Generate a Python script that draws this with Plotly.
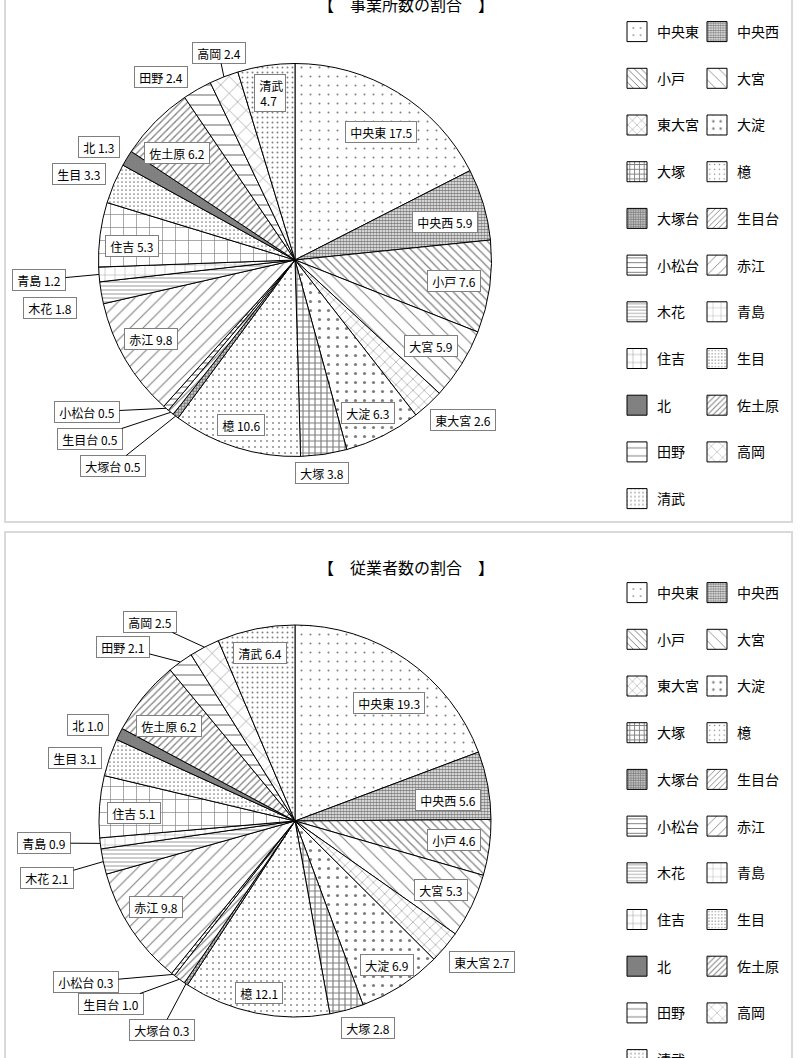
import math
import plotly.graph_objects as go

W, H = 809, 1058

# ---------------- data ----------------
categories = ["中央東", "中央西", "小戸", "大宮", "東大宮", "大淀", "大塚", "檍",
              "大塚台", "生目台", "小松台", "赤江", "木花", "青島", "住吉", "生目",
              "北", "佐土原", "田野", "高岡", "清武"]
establishments_pct = [17.5, 5.9, 7.6, 5.9, 2.6, 6.3, 3.8, 10.6, 0.5, 0.5, 0.5,
                      9.8, 1.8, 1.2, 5.3, 3.3, 1.3, 6.2, 2.4, 2.4, 4.7]
employees_pct = [19.3, 5.6, 4.6, 5.3, 2.7, 6.9, 2.8, 12.1, 0.3, 1.0, 0.3,
                 9.8, 2.1, 0.9, 5.1, 3.1, 1.0, 6.2, 2.1, 2.5, 6.4]
chart_titles = ["【　事業所数の割合　】", "【　従業者数の割合　】"]

# ---------------- styles ----------------
FONT = "Noto Sans CJK JP"
# pattern (shape, size, solidity) per category
patterns = {
    "中央東": (".", 9, 0.04),
    "中央西": (".", 3, 0.65),
    "小戸": ("\\", 6, 0.2),
    "大宮": ("\\", 10, 0.1),
    "東大宮": ("x", 8, 0.12),
    "大淀": (".", 9, 0.1),
    "大塚": ("+", 6, 0.35),
    "檍": (".", 6, 0.07),
    "大塚台": (".", 3, 0.75),
    "生目台": ("/", 5, 0.22),
    "小松台": ("-", 6, 0.2),
    "赤江": ("/", 9, 0.12),
    "木花": ("-", 4, 0.2),
    "青島": ("+", 10, 0.07),
    "住吉": ("+", 13, 0.1),
    "生目": (".", 4, 0.15),
    "北": (".", 3, 0.9),
    "佐土原": ("/", 5, 0.25),
    "田野": ("-", 10, 0.12),
    "高岡": ("x", 12, 0.09),
    "清武": (".", 5, 0.12),
}
shapes_p = [patterns[c][0] for c in categories]
sizes_p = [patterns[c][1] for c in categories]
solid_p = [patterns[c][2] for c in categories]

# layout geometry (pixels)
pies = [
    dict(values=establishments_pct, cx=295, cy=260, r=196.5, title_y=4,
         box=(5, -29, 792, 522), legend_top=16),
    dict(values=employees_pct, cx=295, cy=821, r=196, title_y=567,
         box=(5, 532, 792, 1083), legend_top=577),
]

# label box centres (pixels) and whether a leader line is drawn
label_pos = [
    {"中央東": (381, 131.5, 0), "中央西": (445, 222, 0), "小戸": (454, 281, 0),
     "大宮": (431, 346, 0), "東大宮": (463, 420, 0), "大淀": (368, 413, 0),
     "大塚": (322, 473, 0), "檍": (241, 425, 0), "大塚台": (113, 466, 1),
     "生目台": (90, 439, 1), "小松台": (87, 412, 1), "赤江": (151, 339, 0),
     "木花": (50, 308, 0), "青島": (39, 280, 1), "住吉": (132, 246, 0),
     "生目": (79, 174, 0), "北": (99, 147, 0), "佐土原": (177, 152.5, 0),
     "田野": (161, 77, 0), "高岡": (219, 53, 1), "清武": (270, 93, 0)},
    {"中央東": (389, 703, 0), "中央西": (448, 800, 0), "小戸": (454, 840, 0),
     "大宮": (441, 890, 0), "東大宮": (482, 962, 0), "大淀": (387, 965, 0),
     "大塚": (368, 1028, 0), "檍": (258.5, 993, 0), "大塚台": (161.5, 1030, 1),
     "生目台": (111, 1004, 1), "小松台": (86, 982, 1), "赤江": (156, 907, 0),
     "木花": (47, 878, 1), "青島": (44, 843, 1), "住吉": (134, 813, 0),
     "生目": (75, 758, 0), "北": (87.5, 725, 0), "佐土原": (169, 726, 0),
     "田野": (123, 647, 1), "高岡": (149.5, 622, 1), "清武": (260, 653, 0)},
]
two_line = [{"清武"}, set()]


def px(x):
    return x / W


def py(y):
    return 1 - y / H


fig = go.Figure()
shapes = []
annotations = []
legend_layouts = {}

for k, p in enumerate(pies):
    cx, cy, r = p["cx"], p["cy"], p["r"]
    fig.add_trace(go.Pie(
        labels=categories, values=p["values"], sort=False,
        direction="clockwise", rotation=0, textinfo="none",
        hoverinfo="label+value", showlegend=False,
        marker=dict(colors=["white"] * len(categories),
                    line=dict(color="black", width=1),
                    pattern=dict(shape=shapes_p, size=sizes_p, solidity=solid_p,
                                 fgcolor="black", bgcolor="white",
                                 fillmode="overlay")),
        domain=dict(x=[px(cx - r), px(cx + r)], y=[py(cy + r), py(cy - r)]),
    ))
    # outer box
    bx0, by0, bx1, by1 = p["box"]
    shapes.append(dict(type="rect", xref="paper", yref="paper",
                       x0=px(bx0), x1=px(bx1), y0=py(by1), y1=py(by0),
                       line=dict(color="#d9d9d9", width=2), fillcolor="rgba(0,0,0,0)",
                       layer="below"))
    # title
    annotations.append(dict(text=chart_titles[k], xref="paper", yref="paper",
                            x=px(406), y=py(p["title_y"]), showarrow=False,
                            xanchor="center", yanchor="middle",
                            font=dict(family=FONT, size=16, color="black")))
    # data labels
    total = sum(p["values"])
    cum = 0.0
    for name, v in zip(categories, p["values"]):
        mid = (cum + v / 2) / total * 2 * math.pi
        cum += v
        lx, ly, leader = label_pos[k][name]
        sep = "<br>" if name in two_line[k] else " "
        txt = "\u00a0" + name + sep + f"{v:.1f}" + "\u00a0"
        ann = dict(text=txt, xref="paper", yref="paper", showarrow=False,
                   font=dict(family=FONT, size=12, color="black"),
                   bgcolor="white", bordercolor="#7f7f7f", borderwidth=1,
                   borderpad=1.5)
        if leader:
            tx = cx + r * math.sin(mid)
            ty = cy - r * math.cos(mid)
            ann.update(x=px(tx), y=py(ty), showarrow=True, arrowhead=0,
                       arrowwidth=1, arrowcolor="black",
                       ax=lx - tx, ay=ly - ty)
        else:
            ann.update(x=px(lx), y=py(ly), xanchor="center", yanchor="middle")
        annotations.append(ann)

    # legends: two columns
    lnames = [("legend" if k == 0 else "legend3"), ("legend2" if k == 0 else "legend4")]
    col_x = [617, 697]
    for c in range(2):
        legend_layouts[lnames[c]] = dict(
            x=px(col_x[c]), y=py(p["legend_top"]), xanchor="left", yanchor="top",
            orientation="v", traceorder="grouped", tracegroupgap=25.5,
            bgcolor="rgba(0,0,0,0)", borderwidth=0,
            font=dict(family=FONT, size=14, color="black"))
    for i, name in enumerate(categories):
        sh, sz, so = patterns[name]
        fig.add_trace(go.Bar(
            x=[None], y=[None], name=name, legend=lnames[i % 2],
            legendgroup=f"g{k}_{i}", showlegend=True, hoverinfo="skip",
            marker=dict(color="white", line=dict(color="black", width=1),
                        pattern=dict(shape=sh, size=sz, solidity=so,
                                     fgcolor="black", bgcolor="white",
                                     fillmode="overlay")),
        ))

fig.update_layout(
    width=W, height=H, margin=dict(l=0, r=0, t=0, b=0, autoexpand=False),
    paper_bgcolor="white", plot_bgcolor="white",
    xaxis=dict(visible=False), yaxis=dict(visible=False),
    shapes=shapes, annotations=annotations,
    **legend_layouts,
)

# enlarge the legend swatches to the reference's ~20px squares
post_js = """
(function() {
  var gd = document.getElementById('{plot_id}');
  function bigSwatches() {
    var paths = gd.querySelectorAll('.legendpoints path');
    for (var i = 0; i < paths.length; i++) {
      paths[i].setAttribute('d', 'M10,10H-10V-10H10Z');
    }
  }
  bigSwatches();
  setTimeout(bigSwatches, 50);
  setTimeout(bigSwatches, 300);
  if (gd.on) { gd.on('plotly_afterplot', bigSwatches); }
})();
"""
fig.write_html("out.html", post_script=post_js)
